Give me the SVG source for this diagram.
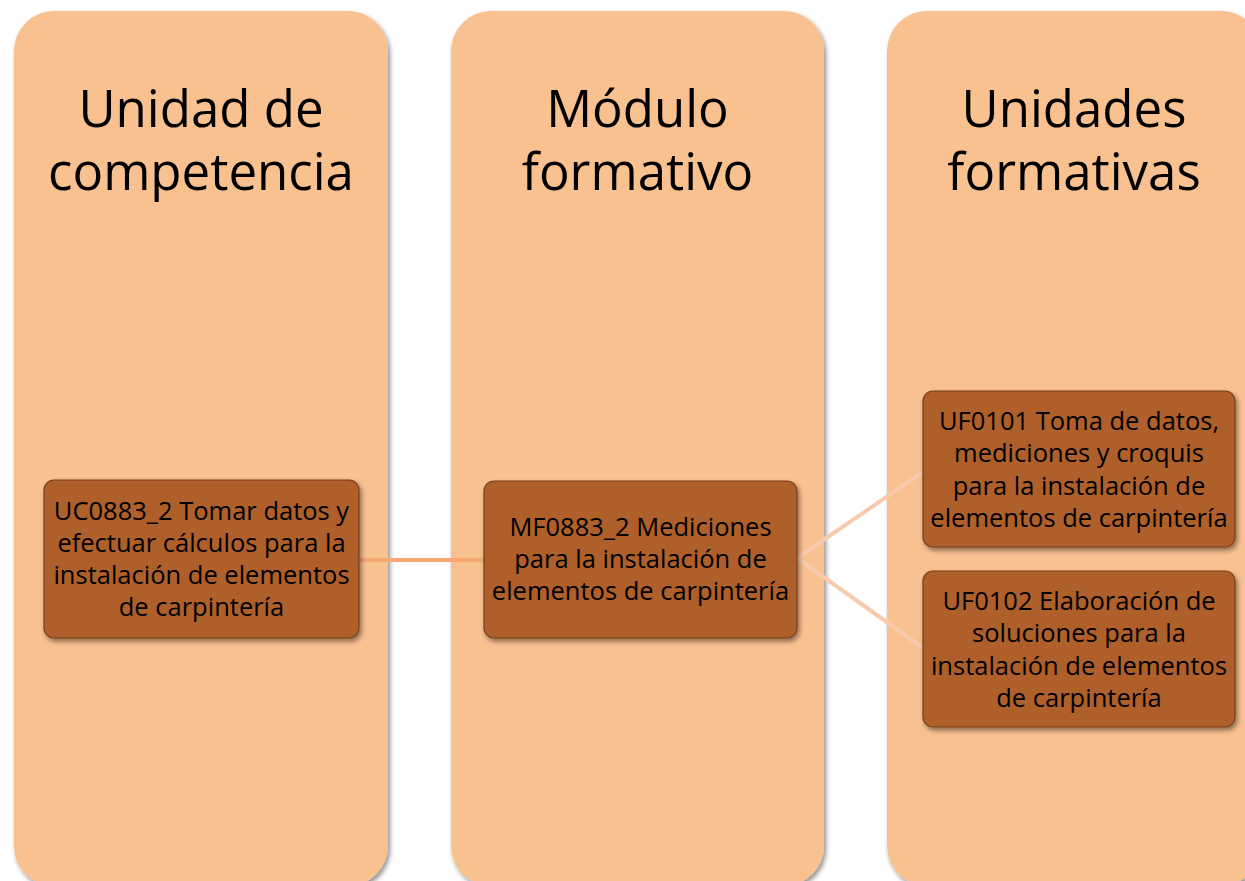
<svg xmlns="http://www.w3.org/2000/svg" width="1245" height="881" viewBox="0 0 1245 881">
<defs>
<filter id="sh" x="-10%" y="-10%" width="125%" height="125%">
<feGaussianBlur in="SourceAlpha" stdDeviation="2.5"/>
<feOffset dx="2" dy="3" result="b"/>
<feComponentTransfer><feFuncA type="linear" slope="0.45"/></feComponentTransfer>
<feMerge><feMergeNode/><feMergeNode in="SourceGraphic"/></feMerge>
</filter>
<style>
.panel{fill:#F9C090;filter:url(#sh)}
.node{fill:#AE5F2C;stroke:#7A3E1C;stroke-width:1.2;filter:url(#sh)}
.h{font-family:"Open Sans","Noto Sans",sans-serif;font-size:51px;fill:#000;text-anchor:middle}
.t{font-family:"Open Sans","Noto Sans",sans-serif;font-size:25.5px;fill:#000;text-anchor:middle}
.c1{stroke:#F6A774;stroke-width:4;fill:none}
.c2{stroke:#F9CBAE;stroke-width:4;fill:none}
</style>
</defs>
<rect width="1245" height="881" fill="#fff"/>
<g id="col1"><rect class="panel" x="14" y="11" width="374" height="875" rx="40"/>
<text class="h" x="201" y="127">Unidad de</text><text class="h" x="201" y="190">competencia</text></g>
<g id="col2"><rect class="panel" x="451" y="11" width="373" height="875" rx="40"/>
<text class="h" x="637.5" y="127">Módulo</text><text class="h" x="637.5" y="190">formativo</text></g>
<g id="col3"><rect class="panel" x="887" y="11" width="374" height="875" rx="40"/>
<text class="h" x="1074" y="127">Unidades</text><text class="h" x="1074" y="190">formativas</text></g>
<g id="connectors">
<line class="c1" x1="359" y1="560" x2="484" y2="560"/>
<line class="c2" x1="797" y1="558" x2="923" y2="472"/>
<line class="c2" x1="797" y1="558" x2="923" y2="648"/>
</g>
<g id="uc"><rect class="node" x="44" y="480" width="315" height="158" rx="10"/>
<text class="t" x="201.5" y="520">UC0883_2 Tomar datos y</text>
<text class="t" x="201.5" y="552">efectuar cálculos para la</text>
<text class="t" x="201.5" y="584">instalación de elementos</text>
<text class="t" x="201.5" y="616">de carpintería</text></g>
<g id="mf"><rect class="node" x="484" y="481" width="313" height="157" rx="10"/>
<text class="t" x="640.5" y="536">MF0883_2 Mediciones</text>
<text class="t" x="640.5" y="568">para la instalación de</text>
<text class="t" x="640.5" y="600">elementos de carpintería</text></g>
<g id="uf1"><rect class="node" x="923" y="391" width="312" height="156" rx="10"/>
<text class="t" x="1079" y="430">UF0101 Toma de datos,</text>
<text class="t" x="1079" y="462">mediciones y croquis</text>
<text class="t" x="1079" y="495">para la instalación de</text>
<text class="t" x="1079" y="527">elementos de carpintería</text></g>
<g id="uf2"><rect class="node" x="923" y="571" width="312" height="156" rx="10"/>
<text class="t" x="1079" y="610">UF0102 Elaboración de</text>
<text class="t" x="1079" y="642">soluciones para la</text>
<text class="t" x="1079" y="675">instalación de elementos</text>
<text class="t" x="1079" y="707">de carpintería</text></g>
</svg>
